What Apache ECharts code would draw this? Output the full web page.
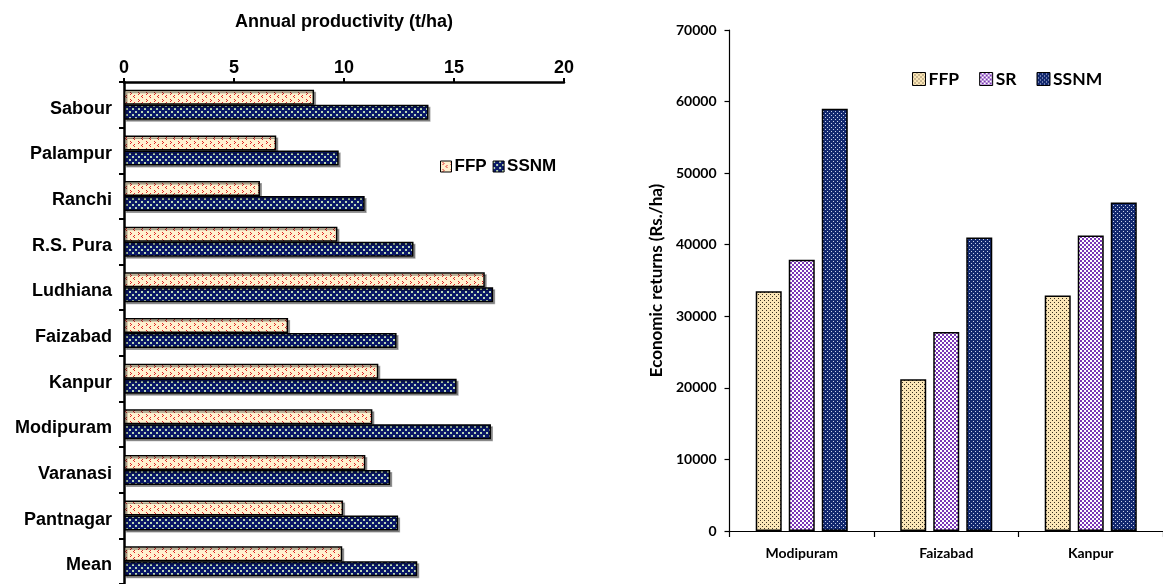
<!DOCTYPE html>
<html>
<head>
<meta charset="utf-8">
<script src="https://cdn.jsdelivr.net/npm/echarts@6/dist/echarts.min.js"></script>
<style>
html,body{margin:0;padding:0;background:#fff;}
#left{position:absolute;left:0;top:0;width:640px;height:584px;}
#right{position:absolute;left:640px;top:0;width:523px;height:584px;}
</style>
</head>
<body>
<div id="left"></div>
<div id="right"></div>
<script>
// ---- data: left chart (Annual productivity, t/ha) ----
const sites = ['Sabour','Palampur','Ranchi','R.S. Pura','Ludhiana','Faizabad','Kanpur','Modipuram','Varanasi','Pantnagar','Mean'];
const prodFFP  = [8.64, 6.92, 6.18, 9.70, 16.40, 7.46, 11.56, 11.29, 10.97, 9.96, 9.92];
const prodSSNM = [13.84, 9.76, 10.94, 13.16, 16.78, 12.39, 15.12, 16.68, 12.10, 12.46, 13.33];
const prodTicks = [0, 20, 5];   // min, max, interval

// ---- data: right chart (Economic returns, Rs./ha) ----
const locs = ['Modipuram','Faizabad','Kanpur'];
const retFFP  = [33500, 21200, 32900];
const retSR   = [37900, 27800, 41300];
const retSSNM = [59000, 41000, 45900];
const retTicks = [0, 70000, 10000];

function tile(w, h, draw) {
  const c = document.createElement('canvas');
  c.width = w; c.height = h;
  const g = c.getContext('2d');
  draw(g);
  return {image: c, repeat: 'repeat'};
}
const patLFFP = tile(8, 7, g => {
  g.fillStyle = '#fff1cf'; g.fillRect(0,0,8,7);
  g.fillStyle = '#e02525';
  g.fillRect(2,1,1,1); g.fillRect(3,2,1,1); g.fillRect(2,3,1,1);
  g.fillRect(6,4,1,1); g.fillRect(5,5,1,1); g.fillRect(6,6,1,1);
});
const patLSSNM = tile(6, 6, g => {
  g.fillStyle = '#0a1868'; g.fillRect(0,0,6,6);
  g.fillStyle = '#b9d8b3';
  g.fillRect(0,0,2,2); g.fillRect(3,3,2,2);
});
const patRFFP = tile(4, 4, g => {
  g.fillStyle = '#fbe6b7'; g.fillRect(0,0,4,4);
  g.fillStyle = '#3a3020';
  g.fillRect(0,0,1,1); g.fillRect(2,2,1,1);
});
const patRSR = tile(4, 4, g => {
  g.fillStyle = '#ffffff'; g.fillRect(0,0,4,4);
  g.fillStyle = '#7b36b6';
  g.fillRect(0,0,2,2); g.fillRect(2,2,2,2);
});
const patRSSNM = tile(4, 4, g => {
  g.fillStyle = '#13296f'; g.fillRect(0,0,4,4);
  g.fillStyle = '#c9d2ea';
  g.fillRect(1,1,1,1); g.fillRect(3,3,1,1);
});

const AR = 'Liberation Sans, Arial, sans-serif';
const CA = 'Lato, sans-serif';

const left = echarts.init(document.getElementById('left'), null, {renderer: 'canvas'});
const lbar = (name, data, pat) => ({
  name, type: 'bar', data, barWidth: 15, barGap: '0%',
  itemStyle: {color: pat, borderColor: '#000', borderWidth: 1.5,
    shadowColor: 'rgba(0,0,0,0.35)', shadowOffsetX: 2, shadowOffsetY: 2, shadowBlur: 0},
  emphasis: {disabled: true}
});
left.setOption({
  animation: false,
  grid: {left: 124, top: 82, width: 440, height: 502, containLabel: false},
  legend: {
    left: 435, top: 153, itemWidth: 11, itemHeight: 11, itemGap: 6, icon: 'rect',
    data: ['FFP','SSNM'],
    textStyle: {fontFamily: AR, fontWeight: 'bold', fontSize: 17, color: '#000', padding: [0,0,0,-2]},
    itemStyle: {borderColor: '#000', borderWidth: 1}
  },
  xAxis: {
    type: 'value', position: 'top', min: prodTicks[0], max: prodTicks[1], interval: prodTicks[2],
    name: 'Annual productivity (t/ha)', nameLocation: 'middle', nameGap: 51,
    nameTextStyle: {fontFamily: AR, fontWeight: 'bold', fontSize: 18, color: '#000'},
    axisLine: {show: true, lineStyle: {color: '#000', width: 2.5}},
    axisTick: {show: true, length: 4, lineStyle: {color: '#000', width: 2}},
    axisLabel: {fontFamily: AR, fontWeight: 'bold', fontSize: 18, color: '#000', margin: 5},
    splitLine: {show: false}
  },
  yAxis: {
    type: 'category', inverse: true, data: sites,
    axisLine: {show: true, lineStyle: {color: '#000', width: 2.5}},
    axisTick: {show: true, length: 5, lineStyle: {color: '#000', width: 2}},
    axisLabel: {fontFamily: AR, fontWeight: 'bold', fontSize: 18, color: '#000', margin: 12,
      verticalAlign: 'top', lineHeight: 8}
  },
  series: [lbar('FFP', prodFFP, patLFFP), lbar('SSNM', prodSSNM, patLSSNM)]
});

const right = echarts.init(document.getElementById('right'), null, {renderer: 'canvas'});
const rbar = (name, data, pat) => ({
  name, type: 'bar', data, barWidth: 26, barGap: '27%',
  itemStyle: {color: pat, borderColor: '#000', borderWidth: 1.5},
  emphasis: {disabled: true}
});
right.setOption({
  animation: false,
  grid: {left: 89, top: 30, width: 441, height: 501, containLabel: false},
  legend: {
    left: 267, top: 65, itemWidth: 13, itemHeight: 13, itemGap: 20, icon: 'rect',
    data: ['FFP','SR','SSNM'],
    textStyle: {fontFamily: CA, fontWeight: 'bold', fontSize: 17.5, color: '#000', padding: [0,0,0,-2]},
    itemStyle: {borderColor: '#000', borderWidth: 1}
  },
  xAxis: {
    type: 'category', data: locs,
    axisLine: {show: true, lineStyle: {color: '#000', width: 1.2}},
    axisTick: {show: true, length: 6, lineStyle: {color: '#000', width: 1.2}},
    axisLabel: {fontFamily: CA, fontWeight: 'bold', fontSize: 14, color: '#000', margin: 15}
  },
  yAxis: {
    type: 'value', min: retTicks[0], max: retTicks[1], interval: retTicks[2],
    name: 'Economic returns (Rs./ha)', nameLocation: 'middle', nameGap: 56,
    nameTextStyle: {fontFamily: CA, fontWeight: 'bold', fontSize: 17, color: '#000'},
    axisLine: {show: true, lineStyle: {color: '#000', width: 1.2}},
    axisTick: {show: true, length: 5, lineStyle: {color: '#000', width: 1.2}},
    axisLabel: {fontFamily: CA, fontWeight: 'bold', fontSize: 14, color: '#000', margin: 13,
      formatter: v => String(v)},
    splitLine: {show: false}
  },
  series: [rbar('FFP', retFFP, patRFFP), rbar('SR', retSR, patRSR), rbar('SSNM', retSSNM, patRSSNM)]
});
</script>
</body>
</html>
